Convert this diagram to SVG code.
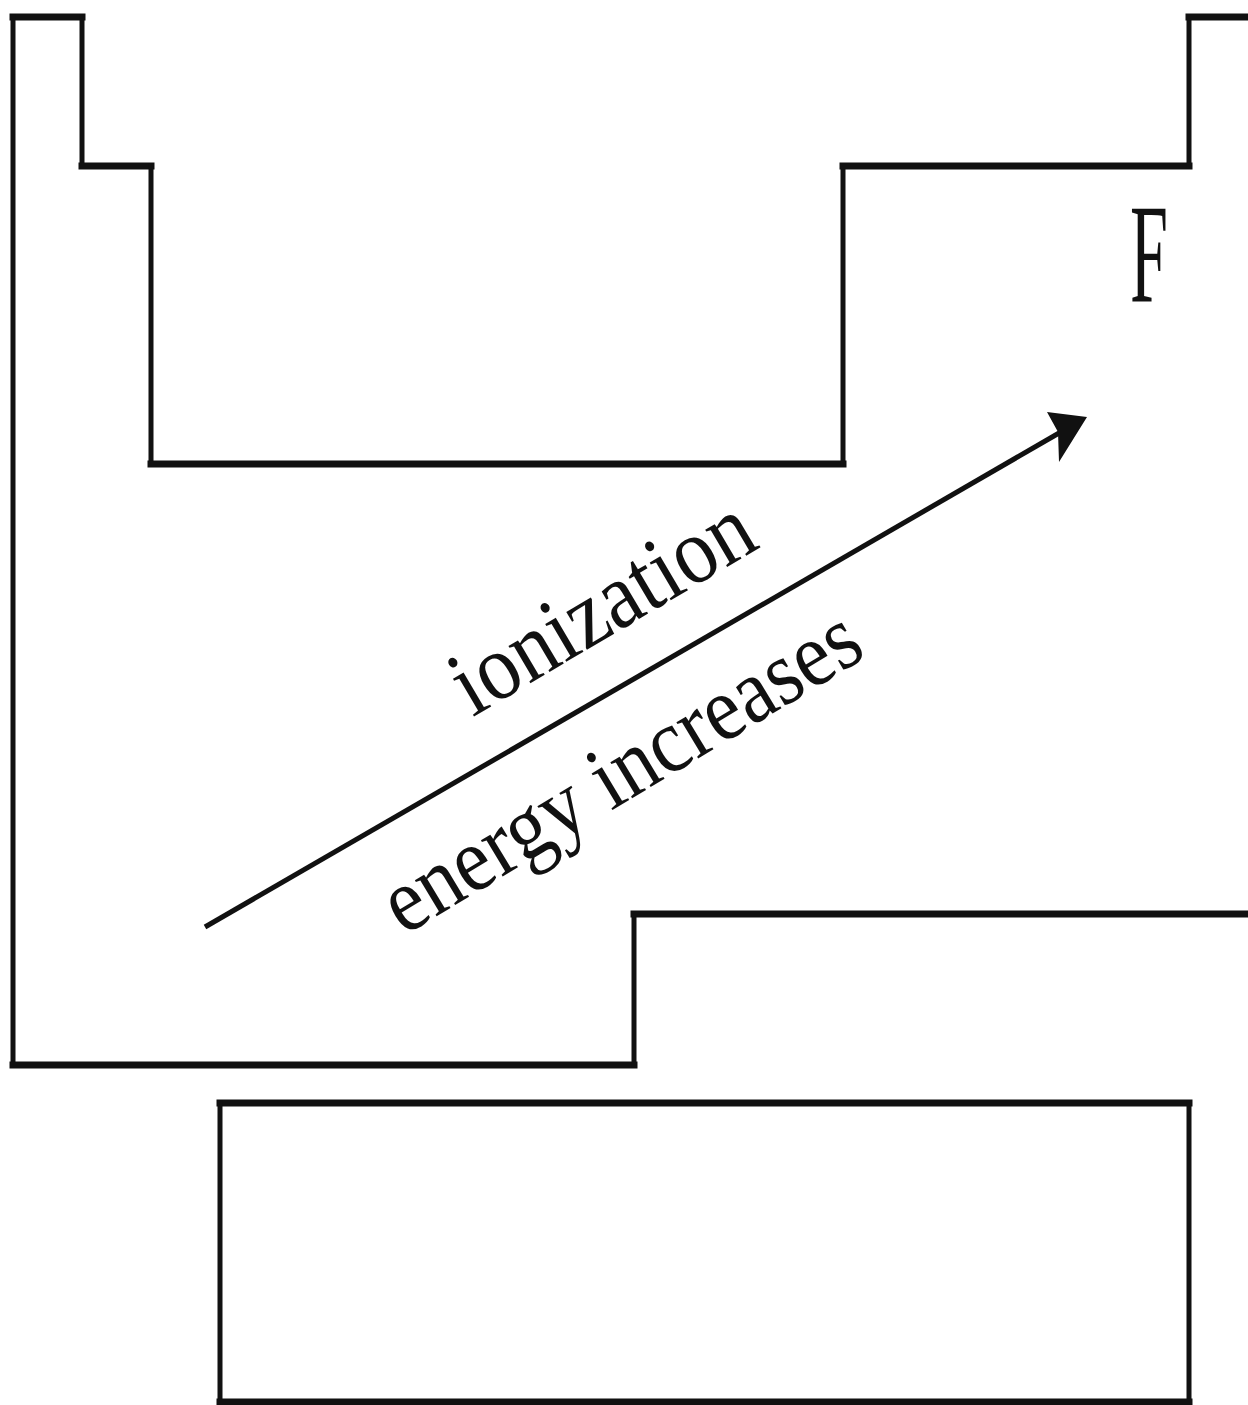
<svg xmlns="http://www.w3.org/2000/svg" width="1248" height="1405" viewBox="0 0 1248 1405">
<style>
.h{stroke:#111;stroke-width:7;stroke-linecap:square;fill:none}
.v{stroke:#111;stroke-width:5;stroke-linecap:square;fill:none}
.t{fill:#111}
</style>
<rect width="1248" height="1405" fill="#fff"/>
<g id="main-table">
<line class="h" x1="13" y1="17" x2="82" y2="17"/>
<line class="v" x1="82" y1="17" x2="82" y2="166"/>
<line class="h" x1="82" y1="166" x2="151" y2="166"/>
<line class="v" x1="151" y1="166" x2="151" y2="464"/>
<line class="h" x1="151" y1="464" x2="843" y2="464"/>
<line class="v" x1="843" y1="464" x2="843" y2="166"/>
<line class="h" x1="843" y1="166" x2="1189" y2="166"/>
<line class="v" x1="1189" y1="166" x2="1189" y2="17"/>
<line class="h" x1="1189" y1="17" x2="1252" y2="17"/>
<line class="v" x1="13" y1="17" x2="13" y2="1065"/>
<line class="h" x1="13" y1="1065" x2="634" y2="1065"/>
<line class="v" x1="634" y1="1065" x2="634" y2="914"/>
<line class="h" x1="634" y1="914" x2="1252" y2="914"/>
</g>
<g id="inner-block">
<line class="h" x1="220" y1="1103" x2="1189" y2="1103"/>
<line class="v" x1="220" y1="1103" x2="220" y2="1402"/>
<line class="v" x1="1189" y1="1103" x2="1189" y2="1402"/>
<line class="h" x1="220" y1="1402" x2="1189" y2="1402"/>
</g>
<g id="label-F">
<text class="t" font-family="Liberation Serif, Times New Roman, serif" transform="translate(1130,302) scale(0.48,1)" font-size="142">F</text>
</g>
<g id="connectors">
<line x1="205" y1="927" x2="1066" y2="429" stroke="#111" stroke-width="5"/>
<polygon points="1087,417 1047,412 1058,432 1059,462" fill="#111"/>
</g>
<g id="arrow-label">
<text class="t" font-family="Liberation Serif, Times New Roman, serif" text-anchor="middle" font-size="84" transform="translate(617,632) rotate(-30.6) scale(1,1.12)">ionization</text>
<text class="t" font-family="Liberation Serif, Times New Roman, serif" text-anchor="middle" font-size="82" transform="translate(636,796) rotate(-31.1) scale(1,1.12)">energy increases</text>
</g>
</svg>
